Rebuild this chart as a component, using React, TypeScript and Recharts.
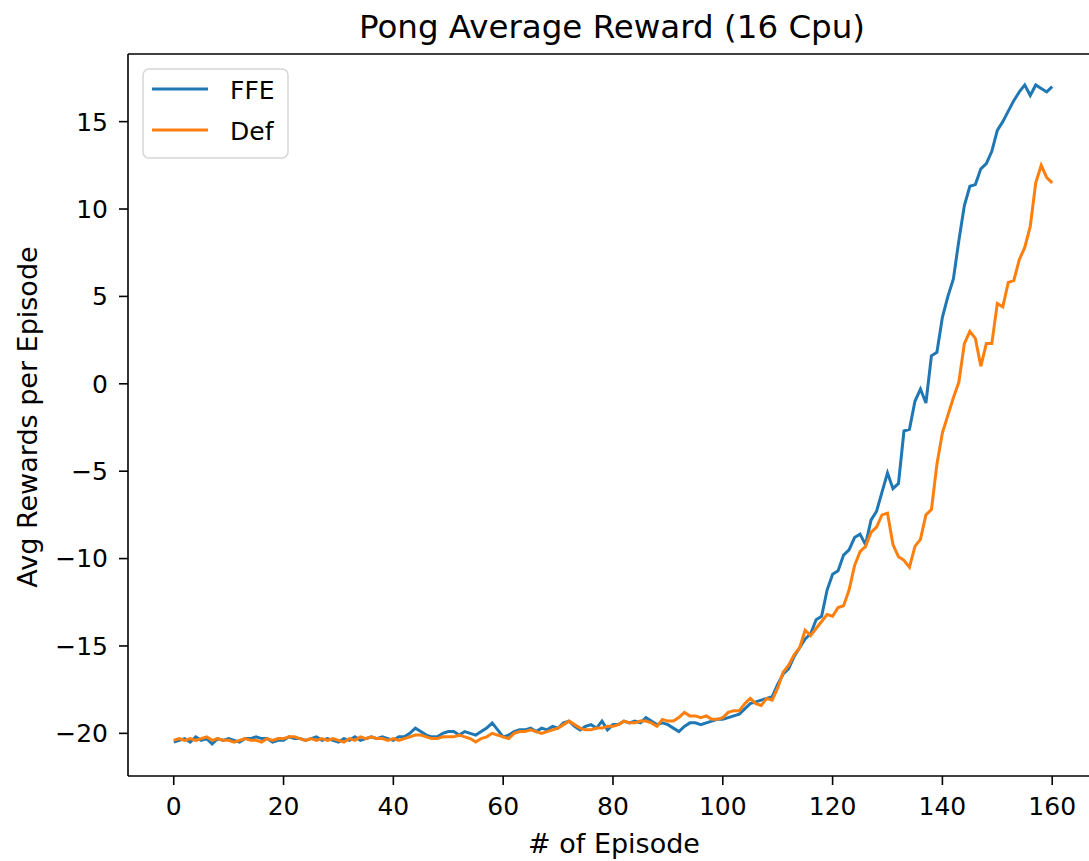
import React from "react";
import { LineChart, Line, XAxis, YAxis, ReferenceLine } from "recharts";

const title = "Pong Average Reward (16 Cpu)";
const xLabel = "# of Episode";
const yLabel = "Avg Rewards per Episode";

const seriesNames = ["FFE", "Def"];
const seriesColors = ["#1f77b4", "#ff7f0e"];

const xTicks = [0, 20, 40, 60, 80, 100, 120, 140, 160];
const yTicks = [-20, -15, -10, -5, 0, 5, 10, 15];

// FFE, episodes 0..160
const ffe = [
  -20.5, -20.4, -20.3, -20.5, -20.2, -20.4, -20.3, -20.6, -20.3, -20.4,
  -20.3, -20.4, -20.5, -20.3, -20.3, -20.2, -20.3, -20.3, -20.5, -20.4,
  -20.4, -20.2, -20.3, -20.3, -20.4, -20.3, -20.2, -20.4, -20.3, -20.4,
  -20.5, -20.3, -20.4, -20.2, -20.4, -20.3, -20.2, -20.3, -20.2, -20.3,
  -20.4, -20.2, -20.2, -20.0, -19.7, -19.9, -20.1, -20.2, -20.2, -20.0,
  -19.9, -19.9, -20.1, -19.9, -20.0, -20.1, -19.9, -19.7, -19.4, -19.8,
  -20.2, -20.1, -19.9, -19.8, -19.8, -19.7, -19.9, -19.7, -19.8, -19.6,
  -19.7, -19.4, -19.3, -19.6, -19.8, -19.6, -19.5, -19.7, -19.3, -19.8,
  -19.5, -19.5, -19.3, -19.4, -19.3, -19.4, -19.1, -19.3, -19.5, -19.4,
  -19.5, -19.7, -19.9, -19.6, -19.4, -19.4, -19.5, -19.4, -19.3, -19.2,
  -19.2, -19.1, -19.0, -18.9, -18.6, -18.3, -18.2, -18.1, -18.0, -17.9,
  -17.2, -16.6, -16.3, -15.6, -15.1, -14.6, -14.3, -13.5, -13.3, -11.8,
  -10.9, -10.7, -9.8, -9.5, -8.8, -8.6, -9.2, -7.8, -7.3, -6.2,
  -5.1, -6.0, -5.7, -2.7, -2.6, -1.0, -0.3, -1.1, 1.6, 1.8,
  3.8, 5.0, 6.0, 8.2, 10.2, 11.3, 11.4, 12.3, 12.6, 13.3,
  14.5, 15.0, 15.6, 16.2, 16.7, 17.1, 16.5, 17.1, 16.9, 16.7,
  17.0,
];

// Def, episodes 0..160
const def = [
  -20.4, -20.3, -20.4, -20.3, -20.4, -20.3, -20.2, -20.4, -20.3, -20.4,
  -20.4, -20.5, -20.4, -20.3, -20.4, -20.4, -20.5, -20.3, -20.4, -20.3,
  -20.3, -20.2, -20.2, -20.3, -20.4, -20.3, -20.4, -20.3, -20.4, -20.3,
  -20.4, -20.5, -20.3, -20.4, -20.2, -20.3, -20.2, -20.3, -20.3, -20.4,
  -20.3, -20.4, -20.3, -20.2, -20.1, -20.1, -20.2, -20.3, -20.3, -20.2,
  -20.2, -20.2, -20.1, -20.2, -20.3, -20.5, -20.3, -20.2, -20.0, -20.1,
  -20.2, -20.3, -20.0, -19.9, -19.9, -19.8, -19.9, -20.0, -19.9, -19.8,
  -19.7, -19.5, -19.3, -19.5, -19.7, -19.8, -19.8, -19.7, -19.7, -19.6,
  -19.6, -19.5, -19.3, -19.4, -19.4, -19.3, -19.3, -19.4, -19.6, -19.2,
  -19.3, -19.3, -19.1, -18.8, -19.0, -19.0, -19.1, -19.0, -19.2, -19.2,
  -19.1, -18.8, -18.7, -18.7, -18.3, -18.0, -18.3, -18.4, -18.0, -18.1,
  -17.4, -16.5, -16.1, -15.5, -15.1, -14.1, -14.4, -14.0, -13.6, -13.2,
  -13.3, -12.8, -12.7, -11.8, -10.4, -9.6, -9.3, -8.5, -8.2, -7.5,
  -7.4, -9.2, -9.9, -10.1, -10.5, -9.3, -8.9, -7.5, -7.2, -4.6,
  -2.8, -1.8, -0.8, 0.1, 2.3, 3.0, 2.6, 1.0, 2.3, 2.3,
  4.6, 4.4, 5.8, 5.9, 7.1, 7.8, 9.0, 11.5, 12.5, 11.8,
  11.5,
];

const data = ffe.map((v, i) => ({ episode: i, ffe: v, def: def[i] }));

const FONT = "'DejaVu Sans', sans-serif";
const W = 1089;
const H = 861;
const xDomain = [-8.33, 166.7];
const yDomain = [-22.44, 18.87];

const fmt = (v: number) => (v < 0 ? "\u2212" + Math.abs(v) : String(v));

export default function App() {
  const tickStyle = { fontSize: 25, fontFamily: FONT, fill: "#000" };
  return (
    <div style={{ position: "relative", width: W, height: H, background: "#fff" }}>
      <style>{`body{margin:0;overflow:hidden;background:#fff}`}</style>
      <LineChart
        width={W}
        height={H}
        data={data}
        margin={{ top: 54, right: 0, bottom: 45, left: 28 }}
      >
        <XAxis
          type="number"
          dataKey="episode"
          domain={xDomain}
          allowDataOverflow
          ticks={xTicks}
          height={40}
          tickSize={9}
          tickMargin={12}
          tick={tickStyle}
          tickLine={{ stroke: "#000", strokeWidth: 1.6 }}
          axisLine={{ stroke: "#000", strokeWidth: 1.6 }}
          interval={0}
        />
        <YAxis
          type="number"
          domain={yDomain}
          allowDataOverflow
          ticks={yTicks}
          width={100}
          tickSize={9}
          tickMargin={11}
          tick={tickStyle}
          tickFormatter={fmt}
          tickLine={{ stroke: "#000", strokeWidth: 1.6 }}
          axisLine={{ stroke: "#000", strokeWidth: 1.6 }}
          interval={0}
        />
        <ReferenceLine
          y={yDomain[1]}
          stroke="#000"
          strokeWidth={1.6}
          ifOverflow="visible"
        />
        <Line
          type="linear"
          dataKey="ffe"
          name={seriesNames[0]}
          stroke={seriesColors[0]}
          strokeWidth={3}
          dot={false}
          isAnimationActive={false}
        />
        <Line
          type="linear"
          dataKey="def"
          name={seriesNames[1]}
          stroke={seriesColors[1]}
          strokeWidth={3}
          dot={false}
          isAnimationActive={false}
        />
      </LineChart>
      <svg
        width={W}
        height={H}
        style={{ position: "absolute", left: 0, top: 0, pointerEvents: "none" }}
      >
        <text x={612} y={38} textAnchor="middle" fontFamily={FONT} fontSize={32.5} fill="#000">
          {title}
        </text>
        <text x={614} y={853} textAnchor="middle" fontFamily={FONT} fontSize={27} fill="#000">
          {xLabel}
        </text>
        <text
          x={37}
          y={417}
          textAnchor="middle"
          fontFamily={FONT}
          fontSize={27}
          fill="#000"
          transform="rotate(-90, 37, 417)"
        >
          {yLabel}
        </text>
        <rect
          x={143}
          y={69}
          width={145}
          height={89}
          rx={6}
          ry={6}
          fill="#fff"
          fillOpacity={0.8}
          stroke="#d6d6d6"
          strokeWidth={1.5}
        />
        {seriesNames.map((name, i) => (
          <g key={name}>
            <line
              x1={152}
              x2={208}
              y1={89 + i * 41}
              y2={89 + i * 41}
              stroke={seriesColors[i]}
              strokeWidth={3}
            />
            <text x={230} y={99 + i * 41} fontFamily={FONT} fontSize={25} fill="#000">
              {name}
            </text>
          </g>
        ))}
      </svg>
    </div>
  );
}
